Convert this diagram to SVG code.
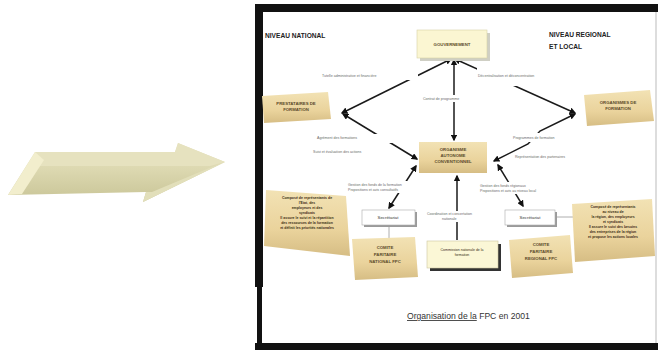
<svg xmlns="http://www.w3.org/2000/svg" width="658" height="354" viewBox="0 0 658 354">
<defs>
<style>
.lbl{font-family:"Liberation Sans",Arial,sans-serif;font-size:3.6px;fill:#6a6a6a}
.nt{font-family:"Liberation Sans",Arial,sans-serif;font-size:4.3px;font-weight:bold;fill:#5b4a2a;text-anchor:middle}
.ct{font-family:"Liberation Sans",Arial,sans-serif;font-size:3.5px;font-weight:bold;fill:#3a2c14;text-anchor:middle}
.hd{font-family:"Liberation Sans",Arial,sans-serif;font-size:6.6px;font-weight:bold;fill:#222}
.ln{stroke:#1a1a1a;stroke-width:1.5;fill:none}
.dbl{marker-start:url(#ah);marker-end:url(#ah)}
.gap{fill:#fff}
.tan{fill:url(#tanG)}
</style>
<marker id="ah" viewBox="0 0 10 10" refX="8" refY="5" markerWidth="4.5" markerHeight="4.5" orient="auto-start-reverse">
<path d="M0,0 L10,5 L0,10 z" fill="#111"/>
</marker>
<linearGradient id="tanG" x1="0" y1="0" x2="0" y2="1">
<stop offset="0" stop-color="#f2e2b4"/>
<stop offset="0.6" stop-color="#ead39c"/>
<stop offset="1" stop-color="#d6bd84"/>
</linearGradient>
<linearGradient id="arrG" x1="0" y1="0" x2="0" y2="1">
<stop offset="0" stop-color="#e8e4c2"/>
<stop offset="0.45" stop-color="#dcd8b0"/>
<stop offset="1" stop-color="#c8c496"/>
</linearGradient>
</defs>

<rect width="658" height="354" fill="#fff"/>

<!-- big 3D arrow -->
<g id="big-arrow">
<polygon points="35,152 175,152 178,143 225,162 143,202 146,192 8,195" fill="url(#arrG)"/>
<polygon points="35,152 175,152 178,143 225,162 210,166 40,166" fill="#e6e2bf"/>
<polygon points="35,152 8,195 22,194 44,160" fill="#f2eecd"/>
<polygon points="143,202 225,162 214,166 152,192 146,192" fill="#e2dfba"/>
</g>

<!-- frame -->
<g id="frame">
<rect x="255" y="4" width="403" height="8" fill="#111"/>
<rect x="255" y="4" width="8" height="283" fill="#111"/>
<rect x="257" y="287" width="5" height="63" fill="#111"/>
<rect x="255" y="343" width="403" height="7" fill="#111"/>
<line x1="656" y1="12" x2="656" y2="343" stroke="#bbb" stroke-width="1"/>
</g>

<text class="hd" x="265" y="38">NIVEAU NATIONAL</text>
<text class="hd" x="549" y="37">NIVEAU REGIONAL</text>
<text class="hd" x="549" y="49">ET LOCAL</text>

<!-- connectors -->
<g id="connectors">
<line class="ln dbl" x1="451" y1="59" x2="342" y2="113"/>
<line class="ln dbl" x1="455" y1="59" x2="575" y2="113"/>
<line class="ln dbl" x1="454" y1="60" x2="454" y2="140"/>
<line class="ln dbl" x1="343" y1="114" x2="417" y2="159"/>
<polyline class="ln dbl" points="575,114 540,131 528,144 494,161"/>
<line class="ln dbl" x1="416" y1="166" x2="389" y2="208"/>
<line class="ln" x1="457" y1="240" x2="457" y2="176" marker-end="url(#ah)"/>
<line class="ln dbl" x1="498" y1="165" x2="523" y2="206"/>
<line x1="389" y1="226" x2="389" y2="239" stroke="#999" stroke-width="0.8"/>
<line x1="556" y1="217" x2="573" y2="217" stroke="#999" stroke-width="0.8"/>
</g>

<!-- labels with white gaps -->
<g id="labels">
<rect class="gap" x="320" y="71" width="98" height="9"/>
<text class="lbl" x="322" y="77">Tutelle administrative et financière</text>
<rect class="gap" x="477" y="68" width="40" height="18"/>
<text class="lbl" x="478" y="77">Décentralisation et déconcentration</text>
<rect class="gap" x="421" y="95" width="55" height="7"/>
<text class="lbl" x="423" y="100">Contrat de programme</text>
<rect class="gap" x="316" y="134" width="80" height="9"/>
<text class="lbl" x="317" y="139">Agrément des formations</text>
<text class="lbl" x="313" y="153">Suivi et évaluation des actions</text>
<rect class="gap" x="512" y="133" width="30" height="9"/>
<text class="lbl" x="513" y="139">Programmes de formation</text>
<text class="lbl" x="515" y="158">Représentation des partenaires</text>
<rect class="gap" x="346" y="181" width="79" height="12"/>
<text class="lbl" x="348" y="186">Gestion des fonds de la formation</text>
<text class="lbl" x="348" y="191">Propositions et avis consultatifs</text>
<rect class="gap" x="425" y="211" width="66" height="11"/>
<text class="lbl" x="427" y="215">Coordination et concertation</text>
<text class="lbl" x="442" y="220">nationale</text>
<rect class="gap" x="478" y="182" width="72" height="12"/>
<text class="lbl" x="480" y="187">Gestion des fonds régionaux</text>
<text class="lbl" x="480" y="192">Propositions et avis au niveau local</text>
</g>

<!-- nodes -->
<g id="gouvernement">
<rect x="420" y="33" width="70" height="28" fill="#cfcfc4"/>
<rect x="417" y="30" width="70" height="28" fill="#fbf6d2" stroke="#d8d2a6" stroke-width="0.6"/>
<text class="nt" x="452" y="46">GOUVERNEMENT</text>
</g>

<g id="prestataires">
<polygon class="tan" points="262,96 328,92 331,119 264,123"/>
<text class="nt" x="296" y="105">PRESTATAIRES DE</text>
<text class="nt" x="296" y="111">FORMATION</text>
</g>

<g id="organismes">
<polygon class="tan" points="584,95 650,90 654,121 587,126"/>
<text class="nt" x="618" y="104">ORGANISMES DE</text>
<text class="nt" x="618" y="110">FORMATION</text>
</g>

<g id="organisme-autonome">
<rect x="419" y="142" width="68" height="31" fill="url(#tanG)"/>
<text class="nt" x="453" y="151">ORGANISME</text>
<text class="nt" x="453" y="157">AUTONOME</text>
<text class="nt" x="453" y="163">CONVENTIONNEL</text>
</g>

<g id="secretariat-national">
<rect x="364" y="212" width="53" height="15" fill="#9a9a9a"/>
<rect x="362" y="210" width="53" height="15" fill="#fff" stroke="#aaa" stroke-width="0.6"/>
<text class="nt" x="388" y="219" style="fill:#333;font-weight:normal">Secrétariat</text>
</g>

<g id="secretariat-regional">
<rect x="507" y="212" width="50" height="15" fill="#9a9a9a"/>
<rect x="505" y="210" width="50" height="15" fill="#fff" stroke="#aaa" stroke-width="0.6"/>
<text class="nt" x="530" y="219" style="fill:#333;font-weight:normal">Secrétariat</text>
</g>

<g id="commission">
<rect x="430" y="244" width="71" height="27" fill="#333"/>
<rect x="427" y="241" width="71" height="27" fill="#fbf7d6" stroke="#ccc6a0" stroke-width="0.6"/>
<text class="ct" x="462" y="251" style="font-weight:normal">Commission nationale de la</text>
<text class="ct" x="462" y="256" style="font-weight:normal">formation</text>
</g>

<g id="comite-national">
<polygon class="tan" points="352,239 415,237 418,277 355,280"/>
<text class="nt" x="385" y="249">COMITE</text>
<text class="nt" x="385" y="256">PARITAIRE</text>
<text class="nt" x="385" y="263">NATIONAL FPC</text>
</g>

<g id="comite-regional">
<polygon class="tan" points="509,240 570,235 573,273 512,278"/>
<text class="nt" x="541" y="246">COMITE</text>
<text class="nt" x="541" y="253">PARITAIRE</text>
<text class="nt" x="541" y="260">REGIONAL FPC</text>
</g>

<g id="note-nationale">
<polygon class="tan" points="266,190 346,196 350,256 264,246"/>
<text class="ct" x="307" y="199">Composé de représentants de</text>
<text class="ct" x="307" y="204">l'Etat, des</text>
<text class="ct" x="307" y="209">employeurs et des</text>
<text class="ct" x="307" y="214">syndicats</text>
<text class="ct" x="307" y="219">Il assure le suivi et la répartition</text>
<text class="ct" x="307" y="224">des ressources de la formation</text>
<text class="ct" x="307" y="229">et définit les priorités nationales</text>
</g>

<g id="note-regionale">
<polygon class="tan" points="572,204 652,199 655,256 575,262"/>
<text class="ct" x="613" y="208">Composé de représentants</text>
<text class="ct" x="613" y="213">au niveau de</text>
<text class="ct" x="613" y="218">la région, des employeurs</text>
<text class="ct" x="613" y="223">et syndicats</text>
<text class="ct" x="613" y="228">Il assure le suivi des besoins</text>
<text class="ct" x="613" y="233">des entreprises de la région</text>
<text class="ct" x="613" y="238">et propose les actions locales</text>
</g>

<text x="407" y="319" style="font-family:'Liberation Sans',Arial,sans-serif;font-size:8.6px;fill:#333"><tspan text-decoration="underline">Organisation de la</tspan> FPC en 2001</text>
</svg>
